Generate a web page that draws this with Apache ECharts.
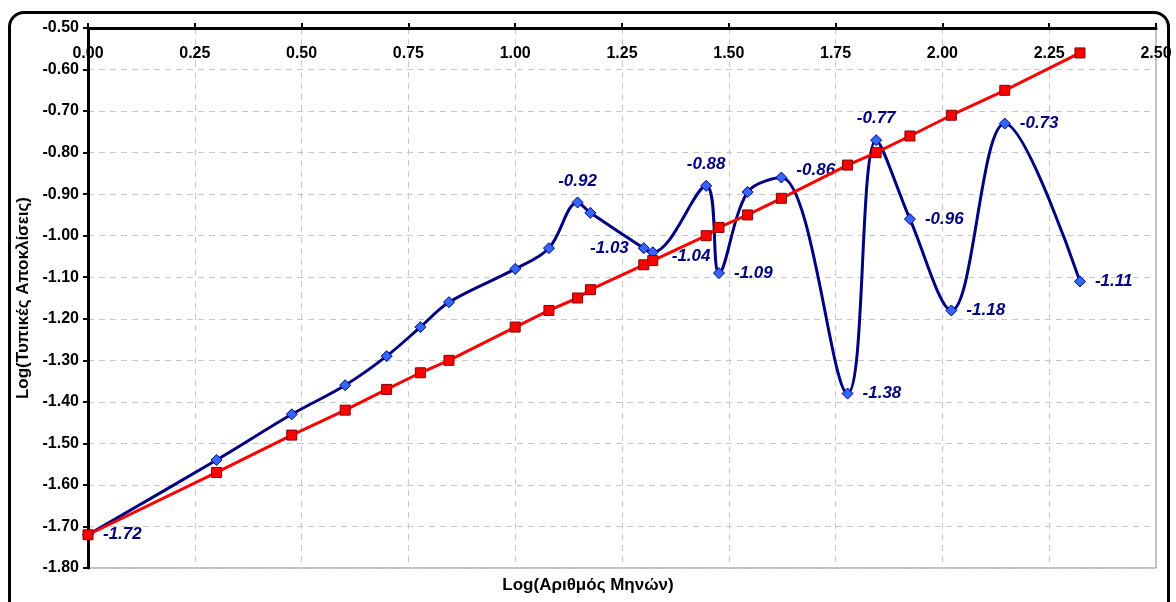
<!DOCTYPE html>
<html>
<head>
<meta charset="utf-8">
<script src="https://cdn.jsdelivr.net/npm/echarts@6/dist/echarts.min.js"></script>
<style>
  html, body { margin: 0; padding: 0; background: #fff; }
  #frame {
    position: absolute; left: 8px; top: 11px; width: 1162px; height: 610px;
    border: 3px solid #000; border-radius: 16px; box-sizing: border-box;
  }
  #chart { position: absolute; left: 0; top: 0; width: 1176px; height: 602px; }
</style>
</head>
<body>
<div id="frame"></div>
<div id="chart"></div>
<script>
// log(μήνες)
const logMonths = [0.000, 0.301, 0.477, 0.602, 0.699, 0.778, 0.845, 1.000, 1.079, 1.146, 1.176,
  1.301, 1.322, 1.447, 1.477, 1.544, 1.623, 1.778, 1.845, 1.924, 2.021, 2.146, 2.322];

// παρατηρούμενες
const observed = [-1.72, -1.54, -1.43, -1.36, -1.29, -1.22, -1.16, -1.08, -1.03, -0.92, -0.945,
  -1.03, -1.04, -0.88, -1.09, -0.895, -0.86, -1.38, -0.77, -0.96, -1.18, -0.73, -1.11];

// θεωρητικές
const theoretical = [-1.72, -1.57, -1.48, -1.42, -1.37, -1.33, -1.30, -1.22, -1.18, -1.15, -1.13,
  -1.07, -1.06, -1.00, -0.98, -0.95, -0.91, -0.83, -0.80, -0.76, -0.71, -0.65, -0.56];

// ποια σημεία έχουν ετικέτα
const labelPos = { 0: "right", 9: "top", 11: "left", 12: "right", 13: "top", 14: "right", 16: "right",
  17: "right", 18: "top", 19: "right", 20: "right", 21: "right", 22: "right" };

const chart = echarts.init(document.getElementById("chart"));

const blueData = logMonths.map((x, i) => {
  const item = { value: [x, observed[i]] };
  if (labelPos[i]) {
    item.label = { show: true, position: labelPos[i], distance: labelPos[i] === "top" ? 7 : 9 };
    if (i === 16) item.label.offset = [0, -7];
    if (i === 12) item.label.offset = [4, 4];
  }
  return item;
});

const font = "Liberation Sans, Arial";

const option = {
  animation: false,
  grid: { left: 88, right: 20, top: 28, bottom: 34, show: true, borderColor: "#808080", borderWidth: 1 },
  xAxis: {
    type: "value",
    position: "top",
    min: 0, max: 2.5, interval: 0.25,
    axisLine: { lineStyle: { color: "#000", width: 3 } },
    axisTick: { show: true, inside: false, length: 5, lineStyle: { color: "#000", width: 2 } },
    axisLabel: {
      inside: true, margin: 18, color: "#000", fontWeight: "bold", fontSize: 16, fontFamily: font,
      formatter: (v) => v.toFixed(2)
    },
    splitLine: { show: true, lineStyle: { color: "#c8c8c8", type: [6, 5], width: 1 } }
  },
  yAxis: {
    type: "value",
    min: -1.8, max: -0.5, interval: 0.1,
    name: "Log(Τυπικές Αποκλίσεις)",
    nameLocation: "middle", nameGap: 56, nameRotate: 90,
    nameTextStyle: { color: "#000", fontWeight: "bold", fontSize: 17, fontFamily: font },
    axisLine: { show: true, lineStyle: { color: "#000", width: 3 } },
    axisTick: { show: true, length: 5, lineStyle: { color: "#000", width: 2 } },
    axisLabel: {
      margin: 9, color: "#000", fontWeight: "bold", fontSize: 16, fontFamily: font,
      formatter: (v) => v.toFixed(2)
    },
    splitLine: { show: true, lineStyle: { color: "#c8c8c8", type: [6, 5], width: 1 } }
  },
  graphic: [{
    type: "text", left: "center", top: 577,
    style: { text: "Log(Αριθμός Μηνών)", fill: "#000", font: "bold 17px 'Liberation Sans', Arial" }
  }],
  series: [
    {
      name: "Παρατηρούμενες",
      type: "line",
      smooth: 0.35,
      data: blueData,
      symbol: "diamond",
      symbolSize: 11,
      lineStyle: { color: "#000080", width: 3 },
      itemStyle: { color: "#3366ff", borderColor: "#000080", borderWidth: 1 },
      label: {
        show: false, color: "#000080", fontWeight: "bold", fontStyle: "italic", fontSize: 17, fontFamily: font,
        formatter: (p) => p.value[1].toFixed(2)
      },
      z: 3
    },
    {
      name: "Θεωρητικές",
      type: "line",
      data: logMonths.map((x, i) => [x, theoretical[i]]),
      symbol: "rect",
      symbolSize: 10,
      lineStyle: { color: "#ff0000", width: 3 },
      itemStyle: { color: "#ff0000", borderColor: "#800000", borderWidth: 1 },
      z: 4
    }
  ]
};

chart.setOption(option);
</script>
</body>
</html>
